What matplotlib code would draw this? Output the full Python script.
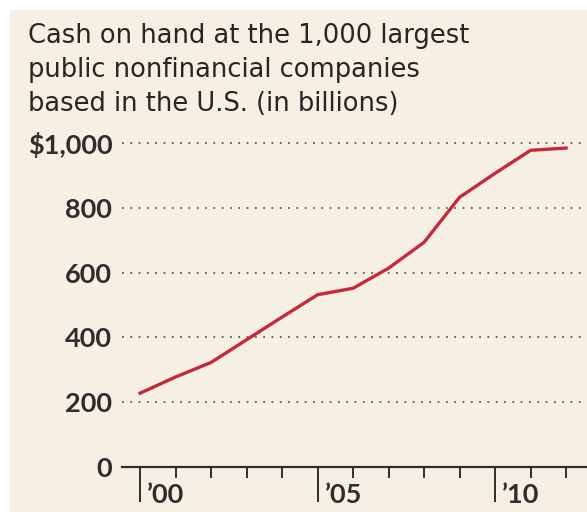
import matplotlib.pyplot as plt
from matplotlib.patches import Rectangle

crema = "#F6F0E4"
rojo = "#C42A3C"
oscuro = "#2E2E2E"

# datos (miles de millones)
anios = list(range(2000, 2013))
efectivo = [228, 278, 323, 393, 463, 532, 552, 614, 694, 833, 907, 978, 985]

yticks = [0, 200, 400, 600, 800, 1000]
ylabels = ["0", "200", "400", "600", "800", "$1,000"]
xmayor = [2000, 2005, 2010]
xetiq = ["\u201900", "\u201905", "\u201910"]
xmenor = [2001, 2002, 2003, 2004, 2006, 2007, 2008, 2009, 2011, 2012]

titulo = ["Cash on hand at the 1,000 largest",
          "public nonfinancial companies",
          "based in the U.S. (in billions)"]

fig = plt.figure(figsize=(5.87, 5.12), dpi=100)
fig.patch.set_facecolor("white")
fig.patches.append(Rectangle((10/587, 0), 1, 1 - 10/512, transform=fig.transFigure,
                             facecolor=crema, edgecolor="none", zorder=-10))

for i, linea in enumerate(titulo):
    fig.text(28/587, 1 - (43 + 34*i)/512, linea, fontsize=18.5, color="#262626",
             family="DejaVu Sans", va="baseline", ha="left")

ax = fig.add_axes([122/587, 45/512, 465/587, 340/512])
ax.set_facecolor("none")

ax.plot(anios, efectivo, color=rojo, lw=2.4, solid_joinstyle="round", zorder=3)

ax.set_xlim(1999.49, 2012.59)
ax.set_ylim(0, 1050)

for s in ["top", "right", "left"]:
    ax.spines[s].set_visible(False)
ax.spines["bottom"].set_color(oscuro)
ax.spines["bottom"].set_linewidth(1.6)

ax.set_yticks(yticks)
ax.set_yticklabels(ylabels, fontsize=19.5, fontweight="bold", color=oscuro, family="Lato")
ax.tick_params(axis="y", length=0, pad=7)

ax.set_xticks(xmayor)
ax.set_xticklabels([])
ax.set_xticks(xmenor, minor=True)
ax.tick_params(axis="x", which="major", direction="out", length=25, width=1.4, color=oscuro)
ax.tick_params(axis="x", which="minor", direction="out", length=8, width=1.4, color=oscuro)

for x, t in zip(xmayor, xetiq):
    ax.text(x + 0.2, -0.083, t, transform=ax.get_xaxis_transform(), fontsize=19.5,
            fontweight="bold", color=oscuro, family="Lato", ha="left", va="center")

for y in yticks[1:]:
    ax.axhline(y, color="#5E5A55", lw=1.3, ls=(0, (1, 3.6)), zorder=1)

fig.savefig("out.png", dpi=100, facecolor=fig.get_facecolor())
